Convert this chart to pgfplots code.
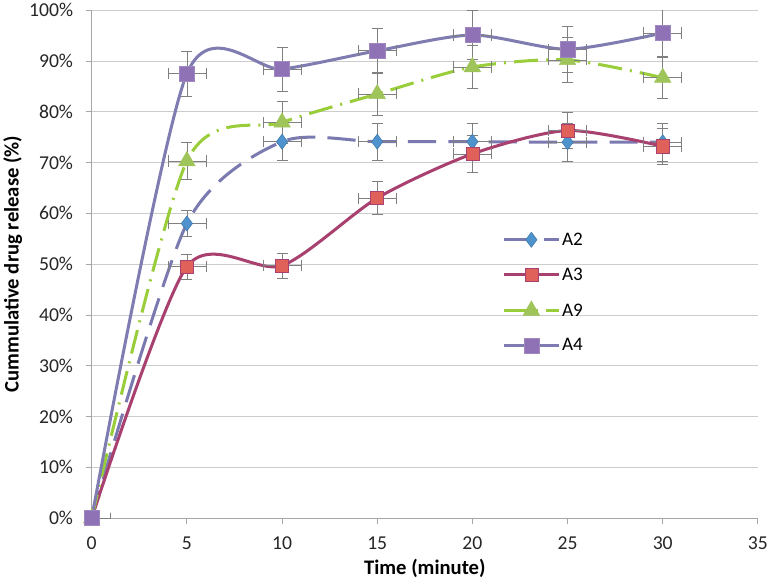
\documentclass[border=0pt]{standalone}
\usepackage{fontspec}
\setmainfont{Carlito}
\usepackage{pgfplots}
\pgfplotsset{compat=1.18}
\usepackage{pgfplotstable}

\definecolor{lnA2}{HTML}{7B7AB0}
\definecolor{mkA2}{HTML}{4F93CE}
\definecolor{lnA3}{HTML}{A8416F}
\definecolor{mkA3}{HTML}{E0605A}
\definecolor{lnA9}{HTML}{9ACD3A}
\definecolor{mkA9}{HTML}{9FC45A}
\definecolor{lnA4}{HTML}{7E7CB1}
\definecolor{mkA4}{HTML}{8E72B5}

% time (min), release (%), x error, y error
\pgfplotstableread{
x  y     ex ey
0  0     1  0
5  58.0  1  2.5
10 74.1  1  3.7
15 74.1  1  3.7
20 74.1  1  3.7
25 74.0  1  3.7
30 74.0  1  3.7
}\tAtwo
\pgfplotstableread{
x  y     ex ey
0  0     1  0
5  49.5  1  2.5
10 49.7  1  2.5
15 63.0  1  3.2
20 71.7  1  3.6
25 76.3  1  3.6
30 73.2  1  3.6
}\tAthree
\pgfplotstableread{
x  y     ex ey
0  0     1  0
5  70.3  1  3.6
10 77.9  1  4.2
15 83.5  1  4.3
20 88.8  1  4.2
25 90.2  1  4.4
30 86.7  1  4.1
}\tAnine
\pgfplotstableread{
x  y     ex ey
0  0     1  0
5  87.5  1  4.4
10 88.4  1  4.3
15 92.0  1  4.5
20 95.1  1  4.8
25 92.3  1  4.5
30 95.5  1  4.6
}\tAfour

\pgfplotsset{
    errs/.style={error bars/.cd, x dir=both, x explicit, y dir=both, y explicit,
        error bar style={draw=gray, line width=0.7pt, solid},
        error mark options={rotate=90, mark size=5.5pt, draw=gray, line width=0.7pt, solid}},
}

\begin{document}
\begin{tikzpicture}
\begin{axis}[
    name=ax,
    scale only axis,
    width=661pt, height=504pt,
    xmin=0, xmax=35, ymin=0, ymax=100,
    xtick={0,5,...,35}, ytick={0,10,...,100},
    yticklabel={\pgfmathprintnumber{\tick}\%},
    /pgf/number format/assume math mode=true,
    axis x line*=bottom, axis y line*=left,
    axis line style={draw=gray!70, line width=0.8pt},
    tick align=outside, major tick length=6pt,
    tick style={draw=gray!70, line width=0.8pt},
    ymajorgrids=true,
    grid style={draw=gray!40, line width=0.8pt},
    tick label style={font=\fontsize{19.5}{23}\selectfont, text=black!85},
    yticklabel style={xshift=-9pt},
    xticklabel style={yshift=-9pt},
    xlabel={\textbf{Time (minute)}},
    ylabel={\textbf{Cummulative drug release (\%)}},
    label style={font=\fontsize{20.5}{24}\selectfont},
    xlabel style={yshift=-3pt},
    ylabel style={yshift=0pt},
    legend style={draw=none, fill=none, at={(0.612,0.57)}, anchor=north west,
        font=\fontsize{19}{22}\selectfont, row sep=17pt},
    legend cell align=left,
    legend image code/.code={\draw[mark repeat=2,mark phase=2,#1] plot coordinates {(0pt,0pt)(27pt,0pt)(54pt,0pt)};},
]
\addplot[smooth, tension=0.45, draw=lnA2, line width=3pt, dash pattern=on 28pt off 12pt,
    mark=diamond*, mark size=7.5pt, mark options={solid, fill=mkA2, draw=mkA2!80!black, line width=0.5pt},
    errs]
    table[x=x, y=y, x error=ex, y error=ey] {\tAtwo};
\addlegendentry{A2}
\addplot[smooth, tension=0.45, draw=lnA3, line width=3pt,
    mark=square*, mark size=6.5pt, mark options={solid, fill=mkA3, draw=lnA3, line width=0.6pt},
    errs]
    table[x=x, y=y, x error=ex, y error=ey] {\tAthree};
\addlegendentry{A3}
\addplot[smooth, tension=0.45, draw=lnA9, line width=3pt, dash pattern=on 24pt off 8pt on 2pt off 8pt,
    mark=triangle*, mark size=9.5pt, mark options={solid, fill=mkA9, draw=mkA9, line width=0.5pt},
    errs]
    table[x=x, y=y, x error=ex, y error=ey] {\tAnine};
\addlegendentry{A9}
\addplot[smooth, tension=0.45, draw=lnA4, line width=3pt,
    mark=square*, mark size=7.5pt, mark options={solid, fill=mkA4, draw=mkA4!85!white, line width=0.5pt},
    errs]
    table[x=x, y=y, x error=ex, y error=ey] {\tAfour};
\addlegendentry{A4}
\end{axis}
\path ([xshift=15pt]ax.east);
\end{tikzpicture}
\end{document}
